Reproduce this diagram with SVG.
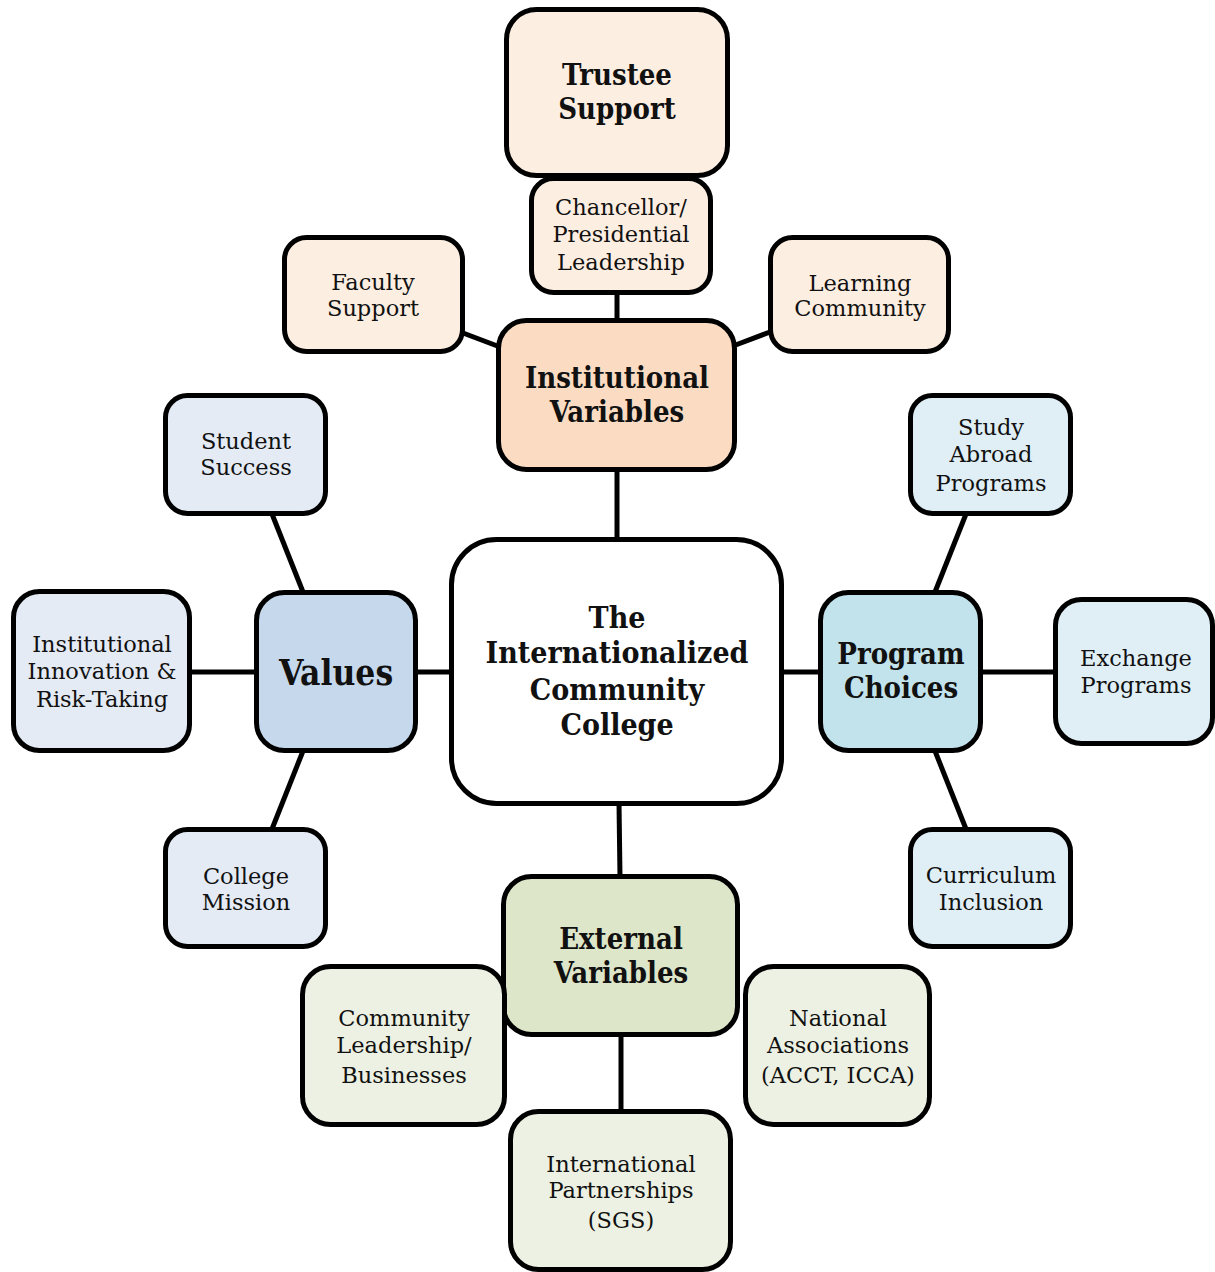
<svg xmlns="http://www.w3.org/2000/svg" width="1215" height="1272" viewBox="0 0 1215 1272">
<style>
rect{stroke:#000;stroke-width:5}
.c line{stroke:#000;stroke-width:5}
text{font-family:"DejaVu Serif","Liberation Serif",serif;text-anchor:middle;fill:#111}
.r{font-size:22.5px}
.b{font-weight:bold;font-size:29px;font-stretch:condensed}
.m{font-weight:bold;font-size:30px;font-stretch:condensed}
.pk1{fill:#FDEEE2}.pk2{fill:#FBDCC2}
.bl1{fill:#E4EBF5}.bl2{fill:#C5D8EC}
.cy1{fill:#E0EFF6}.cy2{fill:#C3E3EC}
.gr1{fill:#EDF1E3}.gr2{fill:#DDE6C8}
</style>
<rect width="1215" height="1272" fill="#fff" style="stroke:none"/>
<g class="c">
<line x1="617" y1="292" x2="617" y2="322"/>
<line x1="463" y1="333" x2="500" y2="347"/>
<line x1="770" y1="332" x2="733" y2="346"/>
<line x1="617" y1="470" x2="617" y2="540"/>
<line x1="416" y1="672" x2="452" y2="672"/>
<line x1="303" y1="592" x2="272" y2="514"/>
<line x1="303" y1="751" x2="272" y2="829"/>
<line x1="190" y1="672" x2="256" y2="672"/>
<line x1="781" y1="672" x2="820" y2="672"/>
<line x1="935" y1="592" x2="966" y2="514"/>
<line x1="935" y1="751" x2="966" y2="829"/>
<line x1="981" y1="672" x2="1056" y2="672"/>
<line x1="619" y1="803" x2="620" y2="877"/>
<line x1="621" y1="1034" x2="621" y2="1112"/>
</g>
<g id="trustee"><rect class="pk1" x="506.5" y="9.5" width="221" height="166" rx="30"/>
<text class="b"><tspan x="617" y="85">Trustee</tspan><tspan x="617" y="119">Support</tspan></text></g>
<g id="chancellor"><rect class="pk1" x="531.5" y="178.5" width="179" height="114" rx="22"/>
<text class="r"><tspan x="621" y="215">Chancellor/</tspan><tspan x="621" y="242">Presidential</tspan><tspan x="621" y="270">Leadership</tspan></text></g>
<g id="faculty"><rect class="pk1" x="284.5" y="237.5" width="178" height="114" rx="22"/>
<text class="r"><tspan x="373" y="290">Faculty</tspan><tspan x="373" y="316">Support</tspan></text></g>
<g id="learning"><rect class="pk1" x="770.5" y="237.5" width="178" height="114" rx="22"/>
<text class="r"><tspan x="860" y="291">Learning</tspan><tspan x="860" y="316">Community</tspan></text></g>
<g id="institutional"><rect class="pk2" x="498.5" y="320.5" width="236" height="149" rx="28"/>
<text class="b"><tspan x="617" y="388">Institutional</tspan><tspan x="617" y="422">Variables</tspan></text></g>
<g id="center"><rect fill="#fff" x="451.5" y="539.5" width="330" height="264" rx="45"/>
<text class="m"><tspan x="617" y="628">The</tspan><tspan x="617" y="663">Internationalized</tspan><tspan x="617" y="700">Community</tspan><tspan x="617" y="735">College</tspan></text></g>
<g id="values"><rect class="bl2" x="256.5" y="592.5" width="159" height="158" rx="28"/>
<text class="b" x="336" y="685" style="font-size:35px">Values</text></g>
<g id="student"><rect class="bl1" x="165.5" y="395.5" width="160" height="118" rx="22"/>
<text class="r"><tspan x="246" y="449">Student</tspan><tspan x="246" y="475">Success</tspan></text></g>
<g id="innovation"><rect class="bl1" x="13.5" y="591.5" width="176" height="159" rx="26"/>
<text class="r"><tspan x="102" y="652">Institutional</tspan><tspan x="102" y="679">Innovation &amp;</tspan><tspan x="102" y="707">Risk-Taking</tspan></text></g>
<g id="mission"><rect class="bl1" x="165.5" y="829.5" width="160" height="117" rx="22"/>
<text class="r"><tspan x="246" y="884">College</tspan><tspan x="246" y="910">Mission</tspan></text></g>
<g id="program"><rect class="cy2" x="820.5" y="592.5" width="160" height="158" rx="28"/>
<text class="b"><tspan x="901" y="664">Program</tspan><tspan x="901" y="698">Choices</tspan></text></g>
<g id="study"><rect class="cy1" x="910.5" y="395.5" width="160" height="118" rx="22"/>
<text class="r"><tspan x="991" y="435">Study</tspan><tspan x="991" y="462">Abroad</tspan><tspan x="991" y="491">Programs</tspan></text></g>
<g id="exchange"><rect class="cy1" x="1055.5" y="599.5" width="157" height="144" rx="26"/>
<text class="r"><tspan x="1136" y="666">Exchange</tspan><tspan x="1136" y="693">Programs</tspan></text></g>
<g id="curriculum"><rect class="cy1" x="910.5" y="829.5" width="160" height="117" rx="22"/>
<text class="r"><tspan x="991" y="883">Curriculum</tspan><tspan x="991" y="910">Inclusion</tspan></text></g>
<g id="external"><rect class="gr2" x="503.5" y="876.5" width="234" height="158" rx="28"/>
<text class="b"><tspan x="621" y="949">External</tspan><tspan x="621" y="983">Variables</tspan></text></g>
<g id="community"><rect class="gr1" x="302.5" y="966.5" width="202" height="158" rx="28"/>
<text class="r"><tspan x="404" y="1026">Community</tspan><tspan x="404" y="1053">Leadership/</tspan><tspan x="404" y="1083">Businesses</tspan></text></g>
<g id="national"><rect class="gr1" x="745.5" y="966.5" width="184" height="158" rx="28"/>
<text class="r"><tspan x="838" y="1026">National</tspan><tspan x="838" y="1053">Associations</tspan><tspan x="838" y="1083">(ACCT, ICCA)</tspan></text></g>
<g id="partnerships"><rect class="gr1" x="510.5" y="1111.5" width="220" height="158" rx="28"/>
<text class="r"><tspan x="621" y="1172">International</tspan><tspan x="621" y="1198">Partnerships</tspan><tspan x="621" y="1228">(SGS)</tspan></text></g>
</svg>
